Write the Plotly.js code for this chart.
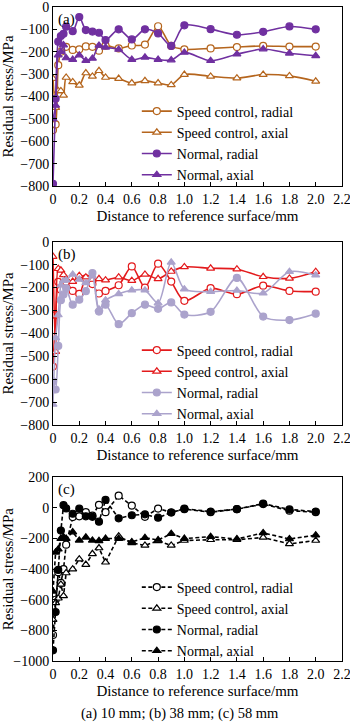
<!DOCTYPE html>
<html><head><meta charset="utf-8">
<script src="https://cdn.plot.ly/plotly-3.0.1.min.js"></script>
<style>html,body{margin:0;padding:0;background:#fff}#chart{width:350px;height:726px}</style>
</head><body><div id="chart"></div>
<script>
// ---- data ----
const xDist = [0, 0.02, 0.04, 0.06, 0.08, 0.1, 0.15, 0.2, 0.25, 0.3, 0.35, 0.4, 0.5, 0.6, 0.7, 0.8, 0.9, 1.0, 1.2, 1.4, 1.6, 1.8, 2.0];
const seriesNames = ["Speed control, radial", "Speed control, axial", "Normal, radial", "Normal, axial"];
// (a) 10 mm
const a_scRadial = [-550, -525, -260, -200, -180, -178, -192, -189, -176, -178, -195, -173, -185, -172, -168, -86, -174, -189, -185, -179, -174, -177, -177];
const a_scAxial  = [-320, -450, -375, -375, -395, -315, -335, -350, -295, -310, -285, -315, -320, -340, -330, -340, -348, -302, -310, -318, -302, -308, -332];
const a_nRadial  = [-790, -410, -155, -130, -120, -88, -108, -45, -103, -110, -115, -148, -100, -145, -100, -118, -174, -82, -99, -124, -111, -87, -100];
const a_nAxial   = [-500, -440, -215, -200, -170, -228, -235, -215, -240, -230, -172, -180, -190, -235, -225, -235, -237, -203, -240, -211, -188, -207, -218];
// (b) 38 mm
const b_scRadial = [-545, -320, -175, -210, -180, -175, -215, -228, -160, -185, -226, -215, -190, -108, -200, -96, -174, -258, -203, -229, -192, -215, -218];
const b_scAxial  = [-65, -480, -118, -125, -145, -165, -174, -148, -155, -165, -162, -168, -155, -170, -143, -162, -130, -110, -116, -120, -153, -160, -131];
const b_nRadial  = [-610, -645, -455, -255, -230, -203, -275, -253, -216, -137, -305, -275, -360, -312, -275, -293, -265, -318, -306, -158, -327, -342, -314];
const b_nAxial   = [-710, -420, -320, -190, -170, -168, -143, -165, -180, -150, -295, -255, -228, -212, -212, -268, -90, -207, -218, -213, -225, -131, -146];
// (c) 58 mm
const c_scRadial = [-830, -600, -420, -490, -400, -240, -60, -55, -28, -50, 20, -28, 80, 15, -58, -4, -29, -8, -28, -8, 25, -18, -28];
const c_scAxial  = [-730, -620, -590, -500, -575, -425, -400, -335, -370, -300, -262, -355, -185, -228, -245, -215, -245, -213, -208, -208, -193, -235, -213];
const c_nRadial  = [-930, -680, -405, -148, 18, -3, -38, -5, -55, -58, -90, 52, -68, -48, -42, -64, -30, -5, -24, -8, 28, -10, -24];
const c_nAxial   = [-545, -290, -270, -200, -190, -200, -158, -212, -192, -212, -215, -200, -200, -222, -195, -210, -168, -200, -188, -203, -163, -203, -178];
const xTicks = [0, 0.2, 0.4, 0.6, 0.8, 1.0, 1.2, 1.4, 1.6, 1.8, 2.0, 2.2];
const xTickText = ["0", "0.2", "0.4", "0.6", "0.8", "1.0", "1.2", "1.4", "1.6", "1.8", "2.0", "2.2"];
const panelLabels = ["(a)", "(b)", "(c)"];
const caption = "(a) 10 mm; (b) 38 mm; (c) 58 mm";
const xTitle = "Distance to reference surface/mm";
const yTitle = "Residual stress/MPa";

// ---- styling ----
const FONT = "Liberation Serif";
const brown = "#B5651D", purple = "#7030A0", red = "#E31A1C", lav = "#ABA3CC", black = "#000000";

function tr(y, name, color, open, tri, ax, leg, dash, shape) {
  return {
    x: xDist, y: y, name: name, type: "scatter", mode: "lines+markers",
    xaxis: "x" + ax, yaxis: "y" + ax, legend: leg,
    line: {color: color, width: 1.6, shape: shape, smoothing: 0.8, dash: dash},
    marker: {symbol: tri ? "triangle-up" : "circle", size: 7,
      color: open ? "#ffffff" : color, line: {color: color, width: 1.2}}
  };
}
const DASH = "4px,2.5px";
const traces = [
  tr(a_scRadial, seriesNames[0], brown, true, false, "", "legend", "solid", "spline"),
  tr(a_scAxial, seriesNames[1], brown, true, true, "", "legend", "solid", "spline"),
  tr(a_nRadial, seriesNames[2], purple, false, false, "", "legend", "solid", "spline"),
  tr(a_nAxial, seriesNames[3], purple, false, true, "", "legend", "solid", "spline"),
  tr(b_scRadial, seriesNames[0], red, true, false, "2", "legend2", "solid", "spline"),
  tr(b_scAxial, seriesNames[1], red, true, true, "2", "legend2", "solid", "spline"),
  tr(b_nRadial, seriesNames[2], lav, false, false, "2", "legend2", "solid", "spline"),
  tr(b_nAxial, seriesNames[3], lav, false, true, "2", "legend2", "solid", "spline"),
  tr(c_scRadial, seriesNames[0], black, true, false, "3", "legend3", DASH, "linear"),
  tr(c_scAxial, seriesNames[1], black, true, true, "3", "legend3", DASH, "linear"),
  tr(c_nRadial, seriesNames[2], black, false, false, "3", "legend3", DASH, "linear"),
  tr(c_nAxial, seriesNames[3], black, false, true, "3", "legend3", DASH, "linear")
];
traces.slice(0,4).forEach(t => { t.xaxis = "x"; t.yaxis = "y"; });

// paper: plot area from y=7 to y=661
const T = 7, B = 65, PH = 726 - T - B;
function dom(top, bot) { return [1 - (bot - T) / PH, 1 - (top - T) / PH]; }
function py(p) { return 1 - (p - T) / PH; }

function xa(anchor) {
  return {domain: [0, 1], anchor: anchor, range: [0, 2.2001], tickvals: xTicks, ticktext: xTickText,
    showline: true, mirror: true, linecolor: "#000", linewidth: 1, ticks: "inside", ticklen: 4,
    tickcolor: "#000", showgrid: false, zeroline: false, ticklabeloverflow: "allow",
    tickfont: {family: FONT, size: 14, color: "#000"},
    title: {text: xTitle, font: {family: FONT, size: 15, color: "#000"}, standoff: 4}};
}
function ya(anchor, d, rng, dt) {
  return {domain: d, anchor: anchor, range: rng, dtick: dt, tick0: 0,
    showline: true, mirror: true, linecolor: "#000", linewidth: 1, ticks: "inside", ticklen: 4,
    tickcolor: "#000", showgrid: false, zeroline: false, ticklabeloverflow: "allow",
    tickfont: {family: FONT, size: 14, color: "#000"},
    title: {text: yTitle, font: {family: FONT, size: 15, color: "#000"}, standoff: 4}};
}
function lg(y) {
  return {x: 0.29, y: y, xanchor: "left", yanchor: "middle", bgcolor: "rgba(0,0,0,0)",
    font: {family: FONT, size: 14, color: "#000"}, tracegroupgap: 0, itemwidth: 30};
}
const layout = {
  width: 350, height: 726, margin: {l: 53, r: 8, t: T, b: B},
  paper_bgcolor: "#fff", plot_bgcolor: "#fff", showlegend: true,
  font: {family: FONT, color: "#000"},
  xaxis: xa("y"), yaxis: ya("x", dom(6, 186), [-800, 0], 100),
  xaxis2: xa("y2"), yaxis2: ya("x2", dom(241.7, 425), [-800, 0], 100),
  xaxis3: xa("y3"), yaxis3: ya("x3", dom(477.3, 661), [-1000, 200], 200),
  legend: lg(py(143)),
  legend2: lg(py(382)),
  legend3: lg(py(619)),
  annotations: [
    {text: panelLabels[0], xref: "x domain", yref: "y domain", x: 0.01, y: 0.99, xanchor: "left", yanchor: "top", showarrow: false, font: {family: FONT, size: 15}},
    {text: panelLabels[1], xref: "x2 domain", yref: "y2 domain", x: 0.01, y: 0.99, xanchor: "left", yanchor: "top", showarrow: false, font: {family: FONT, size: 15}},
    {text: panelLabels[2], xref: "x3 domain", yref: "y3 domain", x: 0.01, y: 0.99, xanchor: "left", yanchor: "top", showarrow: false, font: {family: FONT, size: 15}},
    {text: caption, xref: "paper", yref: "paper", x: 0.44, y: py(713), xanchor: "center", yanchor: "middle", showarrow: false, font: {family: FONT, size: 14.5}}
  ]
};
Plotly.newPlot("chart", traces, layout, {displayModeBar: false, staticPlot: true});
</script></body></html>
